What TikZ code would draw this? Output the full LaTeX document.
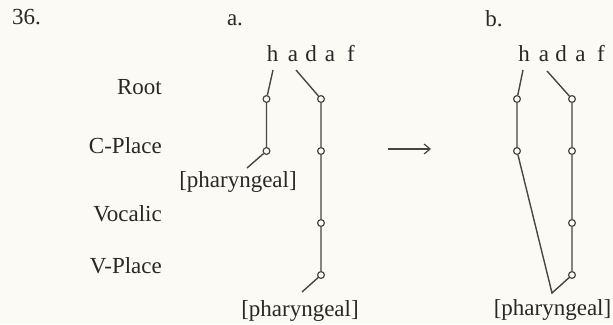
\documentclass[tikz,border=0pt]{standalone}
\usepackage{fontspec}
\setmainfont{Liberation Serif}
\usetikzlibrary{arrows.meta}
\definecolor{paper}{RGB}{251,250,244}
\definecolor{ink}{RGB}{40,40,40}
\definecolor{lineink}{RGB}{70,70,70}
\begin{document}
\begin{tikzpicture}[x=1pt,y=-1pt,
  txt/.style={inner sep=0pt,text=ink,font=\fontsize{23}{27}\selectfont},
  seg/.style={txt,anchor=base},
  lab/.style={txt,anchor=base east},
  dot/.style={circle,draw=lineink,fill=paper,line width=1.2pt,minimum size=6.8pt,inner sep=0pt},
  assoc/.style={draw=lineink,line width=1.4pt}]
\fill[paper] (0,0) rectangle (613,324);
\useasboundingbox (0,0) rectangle (613,324);
% number and tier labels
\node[txt,anchor=base west] (num) at (12,24) {36.};
\node[lab] (lroot) at (162,94) {Root};
\node[lab] (lcpl) at (162,153) {C-Place};
\node[lab] (lvoc) at (162,221) {Vocalic};
\node[lab] (lvpl) at (162,273) {V-Place};
% (a)
\node[seg] (la) at (235,25) {a.};
\node[seg] (ah) at (272.5,61) {h};
\node[seg] (aa1) at (293,61) {a};
\node[seg] (ad) at (311,61) {d};
\node[seg] (aa2) at (330,61) {a};
\node[seg] (af) at (351,61) {f};
\node[dot] (aL1) at (266.5,99) {};
\node[dot] (aL2) at (266.5,151) {};
\node[dot] (aR1) at (321,99) {};
\node[dot] (aR2) at (321,151) {};
\node[dot] (aR3) at (321,223) {};
\node[dot] (aR4) at (321,275) {};
\node[seg] (aph1) at (238,187) {[pharyngeal]};
\node[seg] (aph2) at (300,316) {[pharyngeal]};
\coordinate (ahs) at (273,70);
\coordinate (aas) at (296,70);
\coordinate (aphe1) at (247,168);
\coordinate (aphe2) at (302,292);
\draw[assoc] (ahs) -- (aL1) -- (aL2) -- (aphe1);
\draw[assoc] (aas) -- (aR1) -- (aR2) -- (aR3) -- (aR4) -- (aphe2);
% arrow
\coordinate (arrS) at (388,149);
\coordinate (arrE) at (431,149);
\draw[draw=lineink,line width=1.2pt,-{Straight Barb[length=6pt,width=10pt]}] (arrS) -- (arrE);
% (b)
\node[seg] (lb) at (494,26) {b.};
\node[seg] (bh) at (524,61) {h};
\node[seg] (ba1) at (544,61) {a};
\node[seg] (bd) at (561,61) {d};
\node[seg] (ba2) at (580.5,61) {a};
\node[seg] (bf) at (601,61) {f};
\node[dot] (bL1) at (517,99) {};
\node[dot] (bL2) at (517,151) {};
\node[dot] (bR1) at (572,99) {};
\node[dot] (bR2) at (572,151) {};
\node[dot] (bR3) at (572,223) {};
\node[dot] (bR4) at (572,275) {};
\node[seg] (bph) at (552.5,315) {[pharyngeal]};
\coordinate (bhs) at (523,70);
\coordinate (bas) at (547,71);
\coordinate (bv) at (552,293);
\draw[assoc] (bhs) -- (bL1) -- (bL2) -- (bv) -- (bR4);
\draw[assoc] (bas) -- (bR1) -- (bR2) -- (bR3) -- (bR4);
\end{tikzpicture}
\end{document}
